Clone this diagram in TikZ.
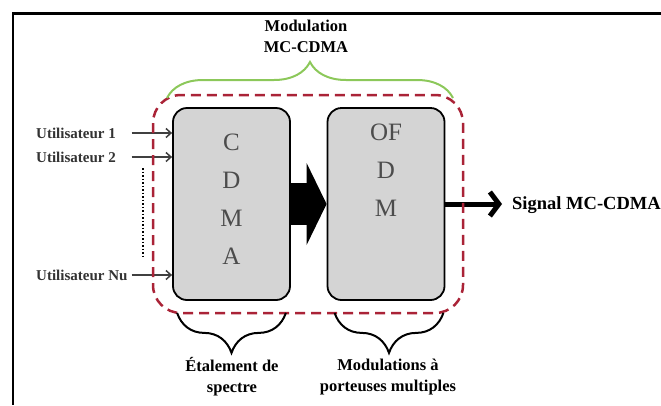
\documentclass[tikz,border=0pt]{standalone}
\usepackage{fontspec}
\setmainfont{Liberation Serif}
\usetikzlibrary{arrows.meta, calc, positioning, decorations.pathreplacing}

\definecolor{dashred}{RGB}{170,35,55}
\definecolor{bracegreen}{RGB}{140,200,90}
\definecolor{boxgray}{RGB}{212,212,212}

\begin{document}
\begin{tikzpicture}[
            x=1pt, y=-1pt,
            block/.style={draw, line width=1.8pt, fill=boxgray, rounded corners=14pt, minimum width=117pt, minimum height=192pt},
            letters/.style={inner sep=0pt, align=center, text=black!70, font=\fontsize{25}{38}\selectfont},
            userlabel/.style={anchor=west, inner sep=0pt, text=black!80, font=\bfseries\fontsize{15}{17}\selectfont},
            caption/.style={align=center, inner sep=0pt, font=\bfseries\fontsize{16.5}{21}\selectfont},
            curly/.style={decorate, decoration={brace, amplitude=#1}, line width=2pt},
            userarrow/.style={-{Straight Barb[length=5pt, width=9pt]}, line width=1.5pt, black!75}
        ]
        \useasboundingbox (0,0) rectangle (661,405);

        % Frame
        \draw[line width=3pt] (12,13) -- (661,13);
        \draw[line width=2pt] (13,13) -- (13,405);

        % Blocks
        \node[block] (cdma) at (231.5,204) {};
        \node[block] (ofdm) at (386,204) {};
        \node[letters, below=27pt of cdma.north] (cdma_txt) {C\\D\\M\\A};
        \node[letters, below=17pt of ofdm.north] (ofdm_txt) {OF\\D\\M};

        % Spreading -> multicarrier
        \draw[line width=42pt, -{Triangle[length=20pt, width=82pt, line width=0pt]}] (cdma.east) -- (ofdm.west);

        % Input signals
        \node[userlabel] (user_1) at (36,133) {Utilisateur 1};
        \node[userlabel] (user_2) at (36,157) {Utilisateur 2};
        \node[userlabel] (user_nu) at (36,275) {Utilisateur Nu};
        \foreach \u in {user_1, user_2, user_nu}
            \draw[userarrow] ($(\u -| user_nu.east)+(4,0)$) -- (\u -| cdma.west);
        \draw[dotted, line width=1.5pt] (143,168) -- (143,258);

        % Output signal
        \node[anchor=west, inner sep=0pt, font=\bfseries\fontsize{18.5}{20}\selectfont] (signal) at (512,205) {Signal MC-CDMA};
        \draw[line width=5pt, -{Straight Barb[length=9pt, width=24pt]}] (ofdm.east) -- ($(ofdm.east -| signal.west)+(-10,0)$);

        % MC-CDMA modulator
        \draw[dashred, line width=2.5pt, dash pattern=on 10pt off 6pt, rounded corners=28pt] (153,95) rectangle (463,313);
        \draw[curly=36pt, bracegreen] (167,98) -- (453,98);
        \node[caption] (mc_cdma) at (306,36) {Modulation\\MC-CDMA};

        % Braces under the blocks
        \draw[curly=40pt] ($(cdma.south east)+(-5,12)$) -- ($(cdma.south west)+(5,12)$);
        \draw[curly=40pt] ($(ofdm.south east)+(-2,12)$) -- ($(ofdm.south west)+(8,12)$);
        \node[caption] (spread) at (232,377) {Étalement de\\spectre};
        \node[caption] (multi) at (388,377) {Modulations à\\porteuses multiples};
    \end{tikzpicture}
\end{document}
